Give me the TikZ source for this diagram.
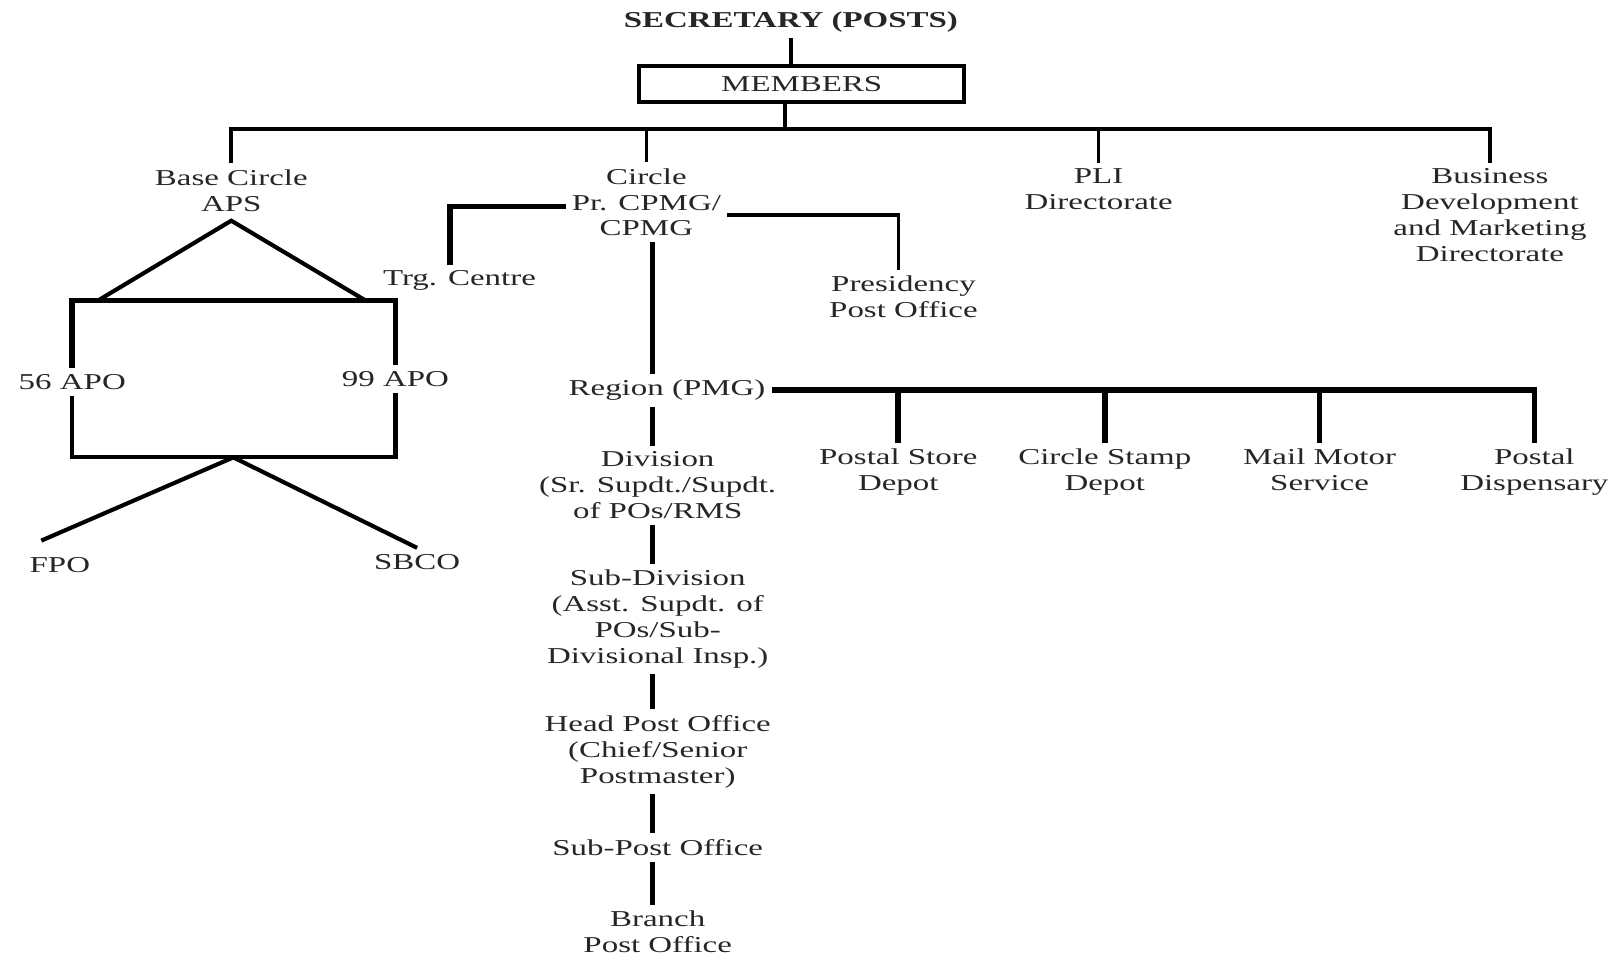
\documentclass[tikz,border=0pt]{standalone}
\usepackage{fontspec}
\setmainfont{Liberation Serif}[FakeStretch=1.45]
\usepackage{tikz}
\usetikzlibrary{positioning,calc}

\begin{document}
\begin{tikzpicture}[
        x=1pt, y=-1pt,
        every node/.style={align=center, inner sep=0pt, outer sep=6pt, text=black!85, font=\fontsize{22}{25}\selectfont},
        every path/.style={line width=3.5pt},
        heavy/.style={line width=5.5pt},
        memberbox/.style={draw, line width=4pt, minimum width=315pt, minimum height=35pt, outer sep=0pt}
    ]
    \useasboundingbox (0,0) rectangle (1568,925);

    % Nodes
    \node (sec) at (766,21) {\textbf{SECRETARY (POSTS)}};
    \node (mem)[memberbox] at (776.5,81.5) {MEMBERS};

    \node (base) at (224,184.5) {Base Circle\\APS};
    \node (circ) at (626,196) {Circle\\Pr. CPMG/\\CPMG};
    \node (pli) at (1064,183.5) {PLI\\Directorate};
    \node (bdm) at (1443,208.5) {Business\\Development\\and Marketing\\Directorate};

    \node (apo56) at (70,370) {56 APO};
    \node (apo99) at (383,367) {99 APO};
    \node (fpo) at (58,547) {FPO};
    \node (sbco) at (404,544) {SBCO};

    \node (trg) at (445,272) {Trg. Centre};
    \node (pres) at (875,287.5) {Presidency\\Post Office};

    \node (region) at (646,378) {Region (PMG)};
    \node (psd) at (870,457.5) {Postal Store\\Depot};
    \node (csd) at (1070,457.5) {Circle Stamp\\Depot};
    \node (mms) at (1278,455) {Mail Motor\\Service};
    \node (pdisp) at (1486,457.5) {Postal\\Dispensary};

    \node (div) at (637,470) {Division\\(Sr. Supdt./Supdt.\\of POs/RMS};
    \node (subdiv) at (637,599.5) {Sub-Division\\(Asst. Supdt. of\\POs/Sub-\\Divisional Insp.)};
    \node (hpo) at (637,728) {Head Post Office\\(Chief/Senior\\Postmaster)};
    \node (spo) at (637,821) {Sub-Post Office};
    \node (bpo) at (637,902.5) {Branch\\Post Office};

    % Junctions
    \coordinate (topbus) at (760,125);
    \coordinate (rectL) at (70,291);
    \coordinate (rectR) at (383,291);
    \coordinate (triL) at (95,291);
    \coordinate (triR) at (354,291);
    \coordinate (lowL) at (70,443);
    \coordinate (lowR) at (383,443);
    \coordinate (lowmid) at (226,443);
    \coordinate (trgcorner) at (436,200);
    \coordinate (prescorner) at (870,208);
    \coordinate (spine) at (632,378);

    % Edges
    \draw (sec.south) -- (sec.south |- mem.north);
    \draw (mem.south -| topbus) -- (topbus);
    \draw (base.north) |- (topbus) -| (bdm.north);
    \draw (circ.north |- topbus) -- (circ.north);
    \draw (pli.north |- topbus) -- (pli.north);

    \draw[line width=4pt] (triL) -- ([yshift=-3pt]base.south) -- (triR);
    \draw[heavy] (apo56.north) -- (rectL) -- (rectR) -- (apo99.north);
    \draw[line width=4pt] (apo56.south) -- (lowL) -- (lowR) -- (apo99.south);
    \draw[line width=4pt] ([xshift=-18pt,yshift=10pt]fpo.north) -- (lowmid) -- (sbco.north);

    \draw[heavy] (trg.north -| trgcorner) -- (trgcorner) -- (circ.west |- trgcorner);
    \draw (circ.east |- prescorner) -- (prescorner) -- (prescorner |- pres.north);

    \draw[heavy] (circ.south -| spine) -- (region.north -| spine);
    \draw[heavy] (region.east) -| (pdisp.north);
    \foreach \n in {psd,csd,mms}
        \draw[heavy] (\n.north |- region.east) -- (\n.north);

    \foreach \a/\b in {region/div, div/subdiv, subdiv/hpo, hpo/spo, spo/bpo}
        \draw[heavy] (\a.south -| spine) -- (\b.north -| spine);

\end{tikzpicture}
\end{document}
